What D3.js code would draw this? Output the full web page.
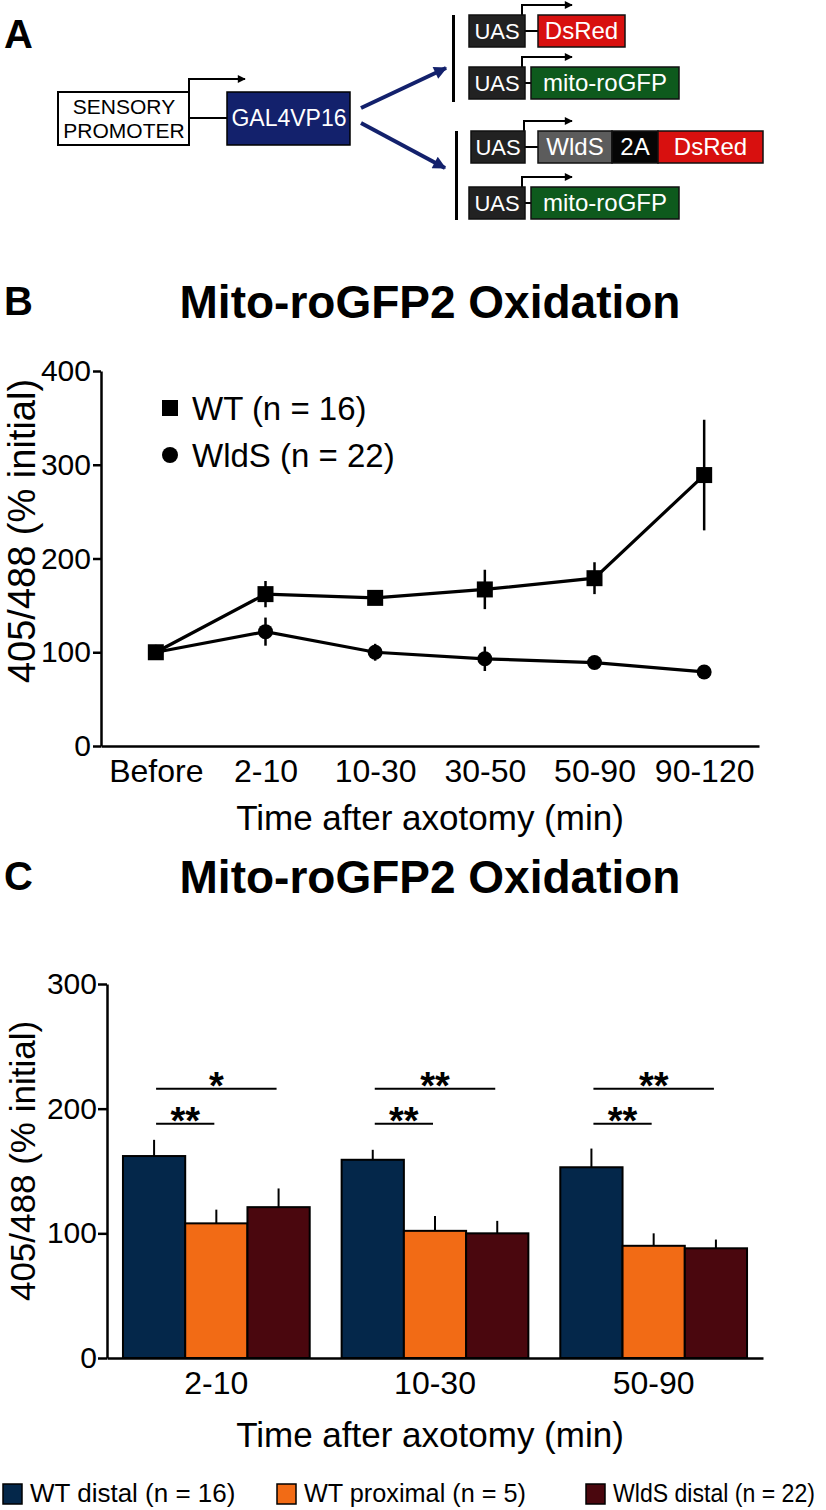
<!DOCTYPE html>
<html><head><meta charset="utf-8">
<script src="https://cdn.jsdelivr.net/npm/d3@7"></script>
<style>
body{margin:0;background:#fff}
svg{display:block}
text{font-family:"Liberation Sans",Arial,Helvetica,sans-serif}
</style>
</head><body>
<svg id="c" width="826" height="1510"></svg>
<script>
// ---------- DATA ----------
const timeCategories = ["Before","2-10","10-30","30-50","50-90","90-120"];
const wtMean   = [100,162,158,167,179,289];
const wtErr    = [0,14,5,21,17,59];
const wldsMean = [100,122,100,93,89,79];
const wldsErr  = [0,15,9,13,4,5];
const lineSeriesLabels = ["WT (n = 16)","WldS (n = 22)"];
const lineTicks = [0,100,200,300,400];

const barCategories = ["2-10","10-30","50-90"];
const barGroups = ["WT distal (n = 16)","WT proximal (n = 5)","WldS distal (n = 22)"];
const wtDistal      = [162,159,153];
const wtDistalErr   = [13,8,15];
const wtProximal    = [108,102,90];
const wtProximalErr = [11,12,10];
const wldsDistal    = [121,100,88];
const wldsDistalErr = [15,10,7];
const barTicks = [0,100,200,300];
const sigShort = ["**","**","**"];   // WT distal vs WT proximal
const sigLong  = ["*","**","**"];    // WT distal vs WldS distal
const sigLevels = [188,216];

const titleText = "Mito-roGFP2 Oxidation";
const yTitle = "405/488 (% initial)";
const xTitle = "Time after axotomy (min)";

const barColors = ["#04274a","#f26b15","#4a070e"];

const svg = d3.select("#c");
const defs = svg.append("defs");
function marker(id,color,w,h){
  defs.append("marker").attr("id",id).attr("viewBox","0 0 10 10").attr("refX",9).attr("refY",5)
    .attr("markerUnits","userSpaceOnUse").attr("markerWidth",w).attr("markerHeight",h).attr("orient","auto")
    .append("path").attr("d","M0,0L10,5L0,10z").attr("fill",color);
}
marker("ahBlack","#000",9,8);
marker("ahBlue","#13216c",14,13);

// ---------- PANEL A ----------
const A = svg.append("g");
A.append("text").attr("x",4).attr("y",48).attr("font-size",40).attr("font-weight","bold").text("A");
A.append("rect").attr("x",58).attr("y",92).attr("width",131).attr("height",53).attr("fill","#fff").attr("stroke","#000").attr("stroke-width",2);
A.append("text").attr("x",124).attr("y",114).attr("text-anchor","middle").attr("font-size",21).text("SENSORY");
A.append("text").attr("x",124).attr("y",138).attr("text-anchor","middle").attr("font-size",21).text("PROMOTER");
A.append("path").attr("d","M189,92V79H245").attr("fill","none").attr("stroke","#000").attr("stroke-width",2).attr("marker-end","url(#ahBlack)");
A.append("line").attr("x1",189).attr("x2",227).attr("y1",118).attr("y2",118).attr("stroke","#000").attr("stroke-width",2);
A.append("rect").attr("x",227).attr("y",92).attr("width",123).attr("height",53).attr("fill","#13216c").attr("stroke","#000").attr("stroke-width",1.5);
A.append("text").attr("x",289).attr("y",126).attr("text-anchor","middle").attr("font-size",23).attr("fill","#fff").text("GAL4VP16");
A.append("line").attr("x1",361).attr("y1",108).attr("x2",446).attr("y2",68).attr("stroke","#13216c").attr("stroke-width",4).attr("marker-end","url(#ahBlue)");
A.append("line").attr("x1",361).attr("y1",123).attr("x2",445).attr("y2",168).attr("stroke","#13216c").attr("stroke-width",4).attr("marker-end","url(#ahBlue)");
A.append("rect").attr("x",452).attr("y",15).attr("width",3).attr("height",87).attr("fill","#000");
A.append("rect").attr("x",455).attr("y",131).attr("width",3).attr("height",89).attr("fill","#000");

const constructs = [
  {y:15, ax:522, parts:[{t:"UAS",x:469,w:56,f:"#222"},{t:"DsRed",x:538,w:87,f:"#d8100f"}]},
  {y:67, ax:522, parts:[{t:"UAS",x:469,w:56,f:"#222"},{t:"mito-roGFP",x:531,w:148,f:"#0e5a1d"}]},
  {y:131,ax:524, parts:[{t:"UAS",x:471,w:54,f:"#222"},{t:"WldS",x:538,w:74,f:"#5c5c5c"},{t:"2A",x:612,w:46,f:"#050505"},{t:"DsRed",x:658,w:105,f:"#d8100f"}]},
  {y:187,ax:522, parts:[{t:"UAS",x:469,w:56,f:"#222"},{t:"mito-roGFP",x:531,w:148,f:"#0e5a1d"}]}
];
constructs.forEach(c=>{
  const h=32;
  A.append("path").attr("d",`M${c.ax},${c.y}V${c.y-10}H572`).attr("fill","none").attr("stroke","#000").attr("stroke-width",2).attr("marker-end","url(#ahBlack)");
  A.append("line").attr("x1",c.parts[0].x+c.parts[0].w).attr("x2",c.parts[1].x).attr("y1",c.y+h/2).attr("y2",c.y+h/2).attr("stroke","#000").attr("stroke-width",2);
  c.parts.forEach(p=>{
    A.append("rect").attr("x",p.x).attr("y",c.y).attr("width",p.w).attr("height",h).attr("fill",p.f).attr("stroke","#111").attr("stroke-width",1.5);
    A.append("text").attr("x",p.x+p.w/2).attr("y",c.y+h/2+8).attr("text-anchor","middle").attr("font-size",p.t==="UAS"?22:24).attr("fill","#fff").text(p.t);
  });
});

// ---------- PANEL B ----------
const B = svg.append("g");
B.append("text").attr("x",4).attr("y",315).attr("font-size",40).attr("font-weight","bold").text("B");
B.append("text").attr("x",430).attr("y",318).attr("text-anchor","middle").attr("font-size",46).attr("font-weight","bold").text(titleText);
const xB = d3.scalePoint().domain(timeCategories).range([101,759]).padding(0.5);
const yB = d3.scaleLinear().domain([0,400]).range([746,371]);
const yAxB = B.append("g").attr("transform","translate(101,0)")
  .call(d3.axisLeft(yB).tickValues(lineTicks).tickSize(8).tickSizeOuter(0).tickPadding(2));
yAxB.selectAll("text").attr("font-size",30).attr("fill","#000").attr("font-family","Liberation Sans, Arial, sans-serif");
const xAxB = B.append("g").attr("transform","translate(0,746)")
  .call(d3.axisBottom(xB).tickSize(0).tickSizeOuter(0).tickPadding(13));
xAxB.selectAll("text").attr("font-size",32).attr("fill","#000").attr("font-family","Liberation Sans, Arial, sans-serif");
[yAxB,xAxB].forEach(a=>{a.select(".domain").attr("stroke","#000").attr("stroke-width",2.5);a.selectAll(".tick line").attr("stroke","#000").attr("stroke-width",2.5);});
B.append("text").attr("transform","translate(35,531) rotate(-90)").attr("text-anchor","middle").attr("font-size",38).text(yTitle);
B.append("text").attr("x",430).attr("y",830).attr("text-anchor","middle").attr("font-size",35).text(xTitle);

const seriesB = [
  {mean:wtMean, err:wtErr, shape:"square"},
  {mean:wldsMean, err:wldsErr, shape:"circle"}
];
const lineGen = d3.line().x((d,i)=>xB(timeCategories[i])).y(d=>yB(d));
seriesB.forEach(s=>{
  B.append("path").attr("d",lineGen(s.mean)).attr("fill","none").attr("stroke","#000").attr("stroke-width",3.2);
  s.mean.forEach((m,i)=>{
    const cx=xB(timeCategories[i]);
    if(s.err[i]>0) B.append("line").attr("x1",cx).attr("x2",cx).attr("y1",yB(m-s.err[i])).attr("y2",yB(m+s.err[i])).attr("stroke","#000").attr("stroke-width",2.5);
    if(s.shape==="square") B.append("rect").attr("x",cx-8).attr("y",yB(m)-8).attr("width",16).attr("height",16).attr("fill","#000");
    else B.append("circle").attr("cx",cx).attr("cy",yB(m)).attr("r",7.5).attr("fill","#000");
  });
});
B.append("rect").attr("x",162).attr("y",400).attr("width",16).attr("height",16).attr("fill","#000");
B.append("circle").attr("cx",170).attr("cy",455).attr("r",8).attr("fill","#000");
B.append("text").attr("x",192).attr("y",420).attr("font-size",33).text(lineSeriesLabels[0]);
B.append("text").attr("x",192).attr("y",467).attr("font-size",33).text(lineSeriesLabels[1]);

// ---------- PANEL C ----------
const C = svg.append("g");
C.append("text").attr("x",4).attr("y",890).attr("font-size",40).attr("font-weight","bold").text("C");
C.append("text").attr("x",430).attr("y",893).attr("text-anchor","middle").attr("font-size",46).attr("font-weight","bold").text(titleText);
const xC = d3.scaleBand().domain(barCategories).range([107,763]).paddingInner(0.146).paddingOuter(0.073);
const xInner = d3.scaleBand().domain(barGroups).range([0,xC.bandwidth()]);
const yC = d3.scaleLinear().domain([0,300]).range([1358,984]);
const barVals = [wtDistal,wtProximal,wldsDistal];
const barErrs = [wtDistalErr,wtProximalErr,wldsDistalErr];
barCategories.forEach((cat,ci)=>{
  barGroups.forEach((g,gi)=>{
    const x0 = xC(cat)+xInner(g), v=barVals[gi][ci], e=barErrs[gi][ci];
    const cx = x0+xInner.bandwidth()/2;
    C.append("line").attr("x1",cx).attr("x2",cx).attr("y1",yC(v)).attr("y2",yC(v+e)).attr("stroke","#000").attr("stroke-width",2);
    C.append("rect").attr("x",x0).attr("y",yC(v)).attr("width",xInner.bandwidth()).attr("height",yC(0)-yC(v))
      .attr("fill",barColors[gi]).attr("stroke","#000").attr("stroke-width",2);
  });
  const c0 = xC(cat)+xInner(barGroups[0])+xInner.bandwidth()/2;
  const c1 = xC(cat)+xInner(barGroups[1])+xInner.bandwidth()/2;
  const c2 = xC(cat)+xInner(barGroups[2])+xInner.bandwidth()/2;
  [[c1,sigLevels[0],sigShort[ci]],[c2,sigLevels[1],sigLong[ci]]].forEach(([cx2,lvl,s])=>{
    C.append("line").attr("x1",c0+2).attr("x2",cx2-2).attr("y1",yC(lvl)).attr("y2",yC(lvl)).attr("stroke","#000").attr("stroke-width",2);
    C.append("text").attr("x",(c0+cx2)/2).attr("y",yC(lvl)+10).attr("text-anchor","middle").attr("font-size",38).attr("font-weight","bold").text(s);
  });
});
const yAxC = C.append("g").attr("transform","translate(107,0)")
  .call(d3.axisLeft(yC).tickValues(barTicks).tickSize(9).tickSizeOuter(0).tickPadding(1));
yAxC.selectAll("text").attr("font-size",30).attr("fill","#000").attr("font-family","Liberation Sans, Arial, sans-serif");
const xAxC = C.append("g").attr("transform","translate(0,1358)")
  .call(d3.axisBottom(xC).tickSize(0).tickSizeOuter(0).tickPadding(13));
xAxC.selectAll("text").attr("font-size",32).attr("fill","#000").attr("font-family","Liberation Sans, Arial, sans-serif");
[yAxC,xAxC].forEach(a=>{a.select(".domain").attr("stroke","#000").attr("stroke-width",2.5);a.selectAll(".tick line").attr("stroke","#000").attr("stroke-width",2.5);});
C.append("text").attr("transform","translate(35,1161) rotate(-90)").attr("text-anchor","middle").attr("font-size",35).text(yTitle);
C.append("text").attr("x",430).attr("y",1447).attr("text-anchor","middle").attr("font-size",35).text(xTitle);

// legend C (horizontally condensed text, like the reference)
const legX = [3,277,586];
const legLen = [206,222,202];
barGroups.forEach((g,i)=>{
  C.append("rect").attr("x",legX[i]).attr("y",1484).attr("width",19).attr("height",20).attr("fill",barColors[i]).attr("stroke","#000").attr("stroke-width",1.5);
  const t = C.append("text").attr("x",0).attr("y",0).attr("font-size",26).text(g);
  const w = t.node().getComputedTextLength();
  const sx = Math.min(1, legLen[i]/w);
  t.attr("transform",`translate(${legX[i]+27},1502) scale(${sx},1)`);
});
</script>
</body></html>
